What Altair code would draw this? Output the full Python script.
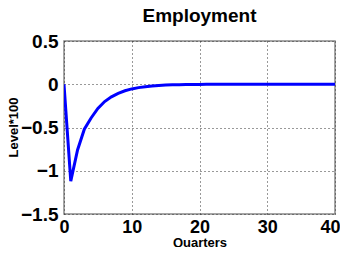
import altair as alt
import pandas as pd

quarters = list(range(0, 41))
employment = [0.0, -1.12, -0.76, -0.52, -0.39, -0.28, -0.20, -0.145, -0.105, -0.075,
              -0.054, -0.039, -0.028, -0.020, -0.014, -0.010, -0.007, -0.005, -0.0035, -0.0025,
              -0.0018, -0.0012, -0.0009, -0.0006, -0.0004, -0.0003, -0.0002, -0.0001, -0.0001, 0.0,
              0.0, 0.0, 0.0, 0.0, 0.0, 0.0, 0.0, 0.0, 0.0, 0.0, 0.0]

df = pd.DataFrame({"q": quarters, "v": employment})

font = "Liberation Sans"

chart = alt.Chart(df).mark_line(color="#0000ff", strokeWidth=3, clip=True).encode(
    x=alt.X("q:Q", scale=alt.Scale(domain=[0, 40], nice=False),
            axis=alt.Axis(title="Quarters", values=[0, 10, 20, 30, 40], format="d",
                          titleFontSize=13, labelPadding=4, labelFontSize=18,
                          labelFlush=True, labelFlushOffset=5,
                          titleY=32, titleBaseline="alphabetic")),
    y=alt.Y("v:Q", scale=alt.Scale(domain=[-1.5, 0.5], nice=False),
            axis=alt.Axis(title="Level*100", values=[-1.5, -1, -0.5, 0, 0.5], format="~g",
                          titleFontSize=13, labelPadding=6, labelFontSize=19,
                          titleX=-51, titleY=86, titleAlign="center", titleBaseline="middle",
                          titleAngle=270)),
).properties(
    width=271, height=173,
    title=alt.TitleParams("Employment", fontSize=19, font=font, fontWeight="bold", offset=6),
    autosize=alt.AutoSizeParams(type="none"),
    padding={"left": 56, "top": 33, "right": 5, "bottom": 33},
).configure_axis(
    labelFont=font, labelFontWeight="bold", labelColor="black",
    titleFont=font, titleFontWeight="bold", titleColor="black",
    grid=True, gridColor="#333333", gridDash=[1, 3], gridWidth=1,
    domain=False, ticks=False,
).configure_view(stroke="#888888", strokeWidth=1.5)

chart.save("out.html", embed_options={"renderer": "svg", "actions": False})
